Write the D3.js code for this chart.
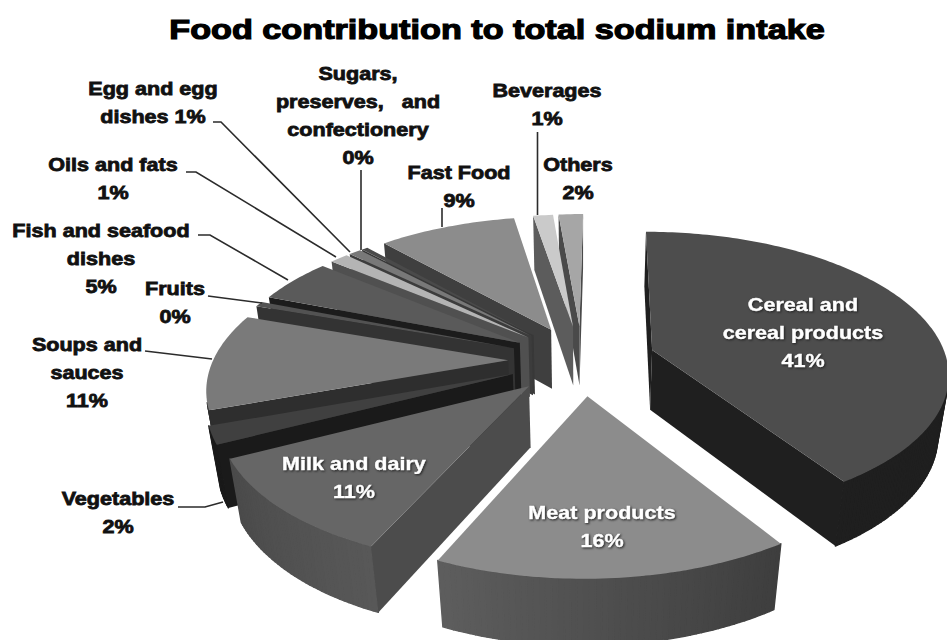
<!DOCTYPE html>
<html><head><meta charset="utf-8">
<script src="https://cdnjs.cloudflare.com/ajax/libs/d3/7.8.5/d3.min.js"></script>
<style>html,body{margin:0;padding:0;background:#fff}svg{display:block}
text{font-family:"Liberation Sans",Arial,sans-serif;font-weight:700;text-anchor:middle;dominant-baseline:central}</style>
</head><body><svg id="c" width="947" height="640"></svg>
<script>
// --- data (clockwise from 12 o'clock)
const categories = ["Cereal and cereal products","Meat products","Milk and dairy","Vegetables","Soups and sauces","Fruits","Fish and seafood dishes","Oils and fats","Egg and egg dishes","Sugars, preserves, and confectionery","Fast Food","Beverages","Others"];
const values     = [41, 16, 11, 2, 10.8, 0.6, 5, 1.2, 0.8, 0.4, 9, 1.3, 1.6];
const topColors  = ["#4d4d4d","#8c8c8c","#666666","#404040","#7a7a7a","#525252","#5a5a5a","#b4b4b4","#787878","#4a4a4a","#8c8c8c","#cacaca","#a6a6a6"];
const sideColors = ["#1f1f1f","#505050","#4c4c4c","#1a1a1a","#2e2e2e","#333333","#1c1c1c","#505050","#3c3c3c","#383838","#3f3f3f","#5c5c5c","#4a4a4a"];
const rimStart   = ["#1f1f1f","#3e3e3e","#585858","#1a1a1a","#2e2e2e","#333333","#1c1c1c","#505050","#3c3c3c","#383838","#3f3f3f","#5c5c5c","#4a4a4a"];
const rimEnd     = ["#1f1f1f","#5e5e5e","#4a4a4a","#1a1a1a","#2e2e2e","#333333","#1c1c1c","#505050","#3c3c3c","#383838","#3f3f3f","#5c5c5c","#4a4a4a"];
const labelLines = [["Cereal and","cereal products","41%"],["Meat products","16%"],["Milk and dairy","11%"],["Vegetables","2%"],["Soups and","sauces","11%"],["Fruits","0%"],["Fish and seafood","dishes","5%"],["Oils and fats","1%"],["Egg and egg","dishes 1%"],["Sugars,","preserves,   and","confectionery","0%"],["Fast Food","9%"],["Beverages","1%"],["Others","2%"]];
const title = "Food contribution to total sodium intake";

// --- layout (label anchors and leader-line starts, not data)
const labelPos = [[803,304],[602,512],[354,463],[118,498],[87,344],[175,288],[101,230],[113,164],[153,88],[358,73],[459,172],[547,90],[578,164]];
const labelInside = [true,true,true,false,false,false,false,false,false,false,false,false,false];
const leaders = [null,null,null,
  {pts:[[178,507],[205,507]],at:[223,502]},
  {pts:[[145,351]],at:[212,359]},
  {pts:[[208,296]],at:[262,303]},
  {pts:[[198,235],[210,235]],at:[288,280]},
  {pts:[[186,172],[196,172]],at:[336,257]},
  {pts:[[213,122],[221,122]],at:[350,252]},
  {pts:[[361,170]],at:[361,250]},
  {pts:[[442,208]],at:[442,227]},
  {pts:[[537.5,132]],at:[537.5,215]},
  null];

const CX=582, CY=360, K=295, Q=0.475, P=0.16, SHEAR=4, DEPTH=62, SHRINK=0.03, EXPLODE=0.25, STRETCH=1.165;
const project=(u,v,z)=>{const d=1-P*v+SHRINK*z;return [CX+(K*u-SHEAR*v)/d, CY+(K*Q*v+DEPTH*z)/d];};

const svg=d3.select("#c");
const arcs=d3.pie().value(d=>d).sort(null).startAngle(0).endAngle(2*Math.PI)(values);
const line=d3.line();
const closed=pts=>line(pts)+"Z";

const slices=arcs.map((a,i)=>{
  const mid=(a.startAngle+a.endAngle)/2;
  return {i,a,mid,ou:EXPLODE*Math.sin(mid),ov:-EXPLODE*Math.cos(mid)};
}).sort((s,t)=>s.ov-t.ov);

slices.forEach(s=>{
  const g=svg.append("g").attr("class","slice");
  const rim=(ang,z)=>project(s.ou+Math.sin(ang),s.ov-Math.cos(ang),z);
  const apex=z=>project(s.ou,s.ov,z);
  const n=Math.max(2,Math.ceil((s.a.endAngle-s.a.startAngle)/(Math.PI/180)));
  const angs=d3.range(n+1).map(j=>s.a.startAngle+(s.a.endAngle-s.a.startAngle)*j/n);
  const shade=d3.interpolateRgb(rimStart[s.i],rimEnd[s.i]);
  // outer curved wall
  d3.pairs(angs).forEach(([a0,a1],j)=>{
    const q=[rim(a0,0),rim(a1,0),rim(a1,1),rim(a0,1)];
    if(d3.polygonArea(q)>0){const col=shade(j/n);
      g.append("path").attr("d",closed(q)).attr("fill",col).attr("stroke",col).attr("stroke-width",1.4).attr("stroke-linejoin","round");}
  });
  // radial cut faces
  const fs=[apex(0),rim(s.a.startAngle,0),rim(s.a.startAngle,1),apex(1)];
  const fe=[apex(0),rim(s.a.endAngle,0),rim(s.a.endAngle,1),apex(1)];
  if(d3.polygonArea(fs)>0) g.append("path").attr("d",closed(fs)).attr("fill",sideColors[s.i]);
  if(d3.polygonArea(fe)<0) g.append("path").attr("d",closed(fe)).attr("fill",sideColors[s.i]);
  // top surface
  g.append("path").attr("d",closed([apex(0),...angs.map(x=>rim(x,0))])).attr("fill",topColors[s.i]);
});

// leader lines
const leaderG=svg.append("g").attr("fill","none").attr("stroke","#2b2b2b").attr("stroke-width",1.6);
leaders.forEach(l=>{ if(l) leaderG.append("path").attr("d",line([...l.pts,l.at])); });

const stretch=(e,f)=>{const w=e.node().getComputedTextLength();
  e.attr("textLength",w*f).attr("lengthAdjust","spacingAndGlyphs");};
// labels
labelLines.forEach((lines,i)=>{
  const t=svg.append("g");
  lines.forEach((s,j)=>{
    const e=t.append("text").attr("x",labelPos[i][0]).attr("y",labelPos[i][1]+j*28).attr("font-size",18.5)
      .attr("xml:space","preserve").style("white-space","pre").text(s);
    stretch(e,STRETCH);
    if(labelInside[i]) e.attr("fill","#fff").attr("stroke","#fff").attr("stroke-width",0.4).style("filter","drop-shadow(1px 1px 1px #222)");
    else e.attr("fill","#111").attr("stroke","#111").attr("stroke-width",0.8);
  });
});
const tt=svg.append("text").attr("x",497).attr("y",29).attr("font-size",28.5).attr("fill","#000").attr("stroke","#000").attr("stroke-width",1.2).text(title);
stretch(tt,1.2);
</script></body></html>
